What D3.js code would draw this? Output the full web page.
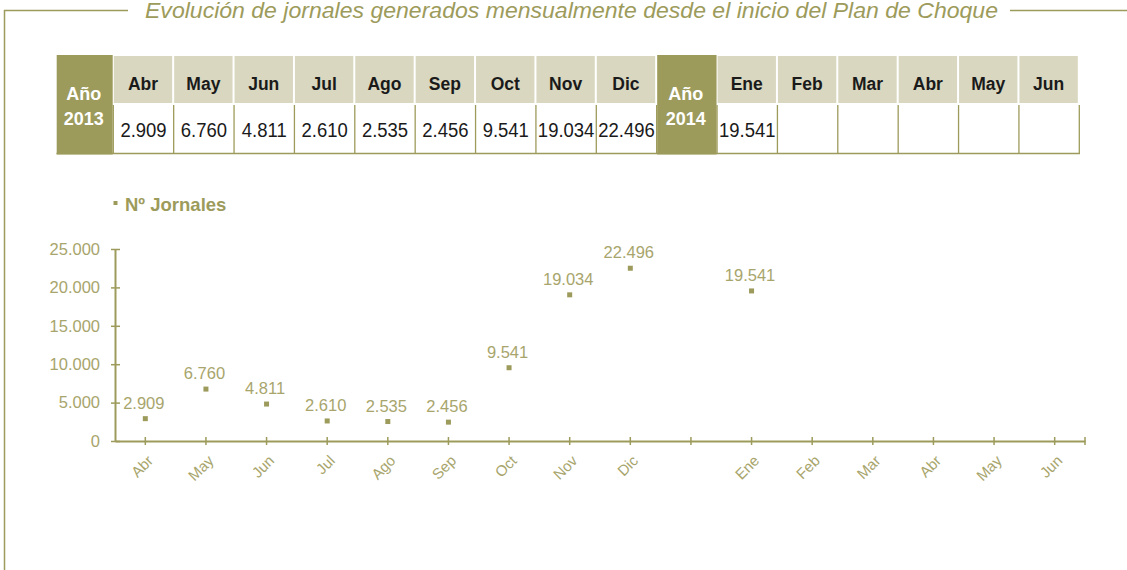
<!DOCTYPE html>
<html><head><meta charset="utf-8">
<script src="https://cdn.jsdelivr.net/npm/d3@7"></script>
<style>body{margin:0;background:#fff} svg{display:block}</style>
</head><body><svg id="c" width="1127" height="570"></svg>
<script>
const title = "Evolución de jornales generados mensualmente desde el inicio del Plan de Choque";
const seriesName = "Nº Jornales";
const yearLabel = "Año";
const year1 = "2013", year2 = "2014";
const months2013 = ["Abr","May","Jun","Jul","Ago","Sep","Oct","Nov","Dic"];
const values2013 = [2909, 6760, 4811, 2610, 2535, 2456, 9541, 19034, 22496];
const months2014 = ["Ene","Feb","Mar","Abr","May","Jun"];
const values2014 = [19541, null, null, null, null, null];
const yTicks = [0, 5000, 10000, 15000, 20000, 25000];

const OLIVE = "#9d9b5b", TXT = "#a8a56c", HEAD = "#d9d7bf";
const loc = d3.formatLocale({decimal: ",", thousands: ".", grouping: [3], currency: ["", ""]});
const fmt = loc.format(",d");
const svg = d3.select("#c");

// frame + title
svg.append("line").attr("x1", 4.5).attr("x2", 4.5).attr("y1", 10).attr("y2", 570).attr("stroke", OLIVE).attr("stroke-width", 1.5);
svg.append("line").attr("x1", 4).attr("x2", 128).attr("y1", 10.5).attr("y2", 10.5).attr("stroke", OLIVE).attr("stroke-width", 1.5);
svg.append("line").attr("x1", 1010).attr("x2", 1127).attr("y1", 10.5).attr("y2", 10.5).attr("stroke", OLIVE).attr("stroke-width", 1.5);
svg.append("text").attr("x", 571.5).attr("y", 17.5).attr("text-anchor", "middle")
  .attr("font-family", "'Liberation Sans',Arial,sans-serif").attr("font-style", "italic")
  .attr("font-size", 21.5).attr("fill", OLIVE).attr("textLength", 853).attr("lengthAdjust", "spacingAndGlyphs").text(title);

// table
const cols = [...months2013.map((m, i) => ({type: "m", label: m, v: values2013[i]})),
  {type: "y", label: year2},
  ...months2014.map((m, i) => ({type: "m", label: m, v: values2014[i]}))];
const tx = d3.scaleBand().domain(d3.range(cols.length)).range([113.3, 1079.3]);
const bw = tx.bandwidth();
const tbl = svg.append("g");
cols.forEach((c, i) => {
  if (c.type === "m") {
    tbl.append("rect").attr("x", tx(i) + 0.5).attr("y", 56).attr("width", bw - 2).attr("height", 47).attr("fill", HEAD);
    tbl.append("text").attr("x", tx(i) + bw / 2 - 0.5).attr("y", 90).attr("text-anchor", "middle")
      .attr("font-family", "'Liberation Sans',Arial,sans-serif").attr("font-weight", "bold").attr("font-size", 17.5)
      .attr("fill", "#1a1a1a").text(c.label);
    tbl.append("text").attr("transform", `translate(${tx(i) + bw / 2},137) scale(0.88,1)`).attr("text-anchor", "middle")
      .attr("font-family", "'Liberation Sans',Arial,sans-serif").attr("font-size", 21)
      .attr("fill", "#1a1a1a").text(c.v == null ? "" : fmt(c.v));
  }
});
d3.range(cols.length + 1).forEach(i => {
  const xx = i < cols.length ? tx(i) : 1079.3;
  tbl.append("line").attr("x1", xx).attr("x2", xx).attr("y1", 105).attr("y2", 154).attr("stroke", OLIVE).attr("stroke-width", 1.3);
});
tbl.append("line").attr("x1", 56.5).attr("x2", 1080).attr("y1", 153.5).attr("y2", 153.5).attr("stroke", OLIVE).attr("stroke-width", 1.5);
const yearCells = [{x: 56.7, w: 56, label: year1}, {x: tx(9) + 0.5, w: bw - 1, label: year2}];
yearCells.forEach(c => {
  tbl.append("rect").attr("x", c.x).attr("y", 55).attr("width", c.w).attr("height", 99.5).attr("fill", OLIVE);
  const t = tbl.append("text").attr("text-anchor", "middle").attr("fill", "#fff")
    .attr("font-family", "'Liberation Sans',Arial,sans-serif").attr("font-weight", "bold").attr("font-size", 18);
  t.append("tspan").attr("x", c.x + c.w / 2 - 1).attr("y", 100).text(yearLabel);
  t.append("tspan").attr("x", c.x + c.w / 2 - 1).attr("y", 125).text(c.label);
});

// legend
svg.append("rect").attr("x", 113.5).attr("y", 201).attr("width", 4).attr("height", 4).attr("fill", OLIVE);
svg.append("text").attr("x", 125).attr("y", 211).attr("font-family", "'Liberation Sans',Arial,sans-serif")
  .attr("font-weight", "bold").attr("font-size", 18.5).attr("fill", OLIVE).text(seriesName);

// chart
const xKeys = [...months2013.map((m, i) => "a" + i), "gap", ...months2014.map((m, i) => "b" + i)];
const xLabels = [...months2013, "", ...months2014];
const xVals = [...values2013, null, ...values2014];
const x = d3.scaleBand().domain(xKeys).range([115, 1085]);
const y = d3.scaleLinear().domain([0, 25000]).range([441, 249]);

const gx = svg.append("g").attr("transform", "translate(0,441)")
  .call(d3.axisBottom(x).tickFormat((d, i) => xLabels[i]).tickSizeOuter(0));
gx.select(".domain").attr("stroke", OLIVE).attr("stroke-width", 2);
gx.selectAll(".tick line").attr("y1", -4).attr("y2", 4).attr("stroke", OLIVE).attr("stroke-width", 1.5);
gx.selectAll(".tick text").attr("x", 0).attr("y", 0).attr("dy", "0.35em").attr("text-anchor", "end")
  .attr("transform", "translate(5,17) rotate(-45)")
  .attr("font-family", "'Liberation Sans',Arial,sans-serif").attr("font-size", 15).attr("fill", TXT);
gx.append("line").attr("x1", 1085).attr("x2", 1085).attr("y1", -4).attr("y2", 4).attr("stroke", OLIVE).attr("stroke-width", 1.5);

const gy = svg.append("g").attr("transform", "translate(115,0)")
  .call(d3.axisLeft(y).tickValues(yTicks).tickFormat(fmt).tickSizeOuter(0));
gy.select(".domain").attr("stroke", OLIVE).attr("stroke-width", 2);
gy.selectAll(".tick line").attr("x1", -4).attr("x2", 5).attr("stroke", OLIVE).attr("stroke-width", 1.5);
gy.selectAll(".tick text").attr("x", -15).attr("font-family", "'Liberation Sans',Arial,sans-serif")
  .attr("font-size", 16.5).attr("fill", TXT);

const pts = xKeys.map((k, i) => ({k, v: xVals[i]})).filter(d => d.v != null);
const gp = svg.append("g");
gp.selectAll("rect").data(pts).join("rect")
  .attr("x", d => x(d.k) + x.bandwidth() / 2 - 2.5).attr("y", d => y(d.v) - 2.5)
  .attr("width", 5).attr("height", 5).attr("fill", OLIVE);
gp.selectAll("text").data(pts).join("text")
  .attr("x", d => x(d.k) + x.bandwidth() / 2 - 1.5).attr("y", d => y(d.v) - 10).attr("text-anchor", "middle")
  .attr("font-family", "'Liberation Sans',Arial,sans-serif").attr("font-size", 16.5).attr("fill", TXT)
  .text(d => fmt(d.v));
</script></body></html>
